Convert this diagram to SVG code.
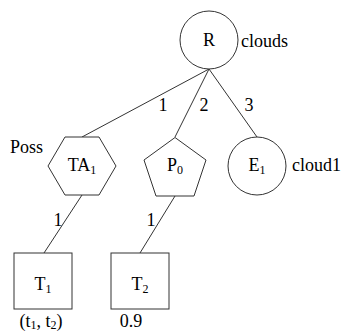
<svg xmlns="http://www.w3.org/2000/svg" width="343" height="333" viewBox="0 0 343 333" font-family="'Liberation Serif', 'DejaVu Serif', serif">
  <style>
    .shape { fill: #ffffff; stroke: #333333; stroke-width: 1; }
    .edge { stroke: #333333; stroke-width: 1; fill: none; }
    text { font-family: 'Liberation Serif', 'DejaVu Serif', serif; font-size: 18px; fill: #000000; }
    .mid { text-anchor: middle; }
    .sub { font-size: 12px; }
  </style>
  <rect width="343" height="333" fill="#ffffff"/>

  <g id="connectors">
    <line class="edge" x1="209" y1="69" x2="82" y2="137"/>
    <line class="edge" x1="209" y1="69" x2="175" y2="137"/>
    <line class="edge" x1="209" y1="69" x2="257" y2="137"/>
    <line class="edge" x1="82" y1="195" x2="44" y2="253"/>
    <line class="edge" x1="175" y1="196" x2="140" y2="253"/>
    <text x="163" y="111" class="mid">1</text>
    <text x="204" y="111" class="mid">2</text>
    <text x="249" y="111" class="mid">3</text>
    <text x="58" y="226" class="mid">1</text>
    <text x="151" y="226" class="mid">1</text>
  </g>

  <g id="node-R">
    <circle class="shape" cx="209" cy="40" r="29"/>
    <text x="209" y="46" class="mid">R</text>
    <text x="241" y="47">clouds</text>
  </g>

  <g id="node-TA1">
    <polygon class="shape" points="65,137 99,137 116,166 99,195 65,195 48,166"/>
    <text x="82" y="171" class="mid">TA<tspan class="sub" dy="3">1</tspan></text>
    <text x="10" y="153">Poss</text>
  </g>

  <g id="node-P0">
    <polygon class="shape" points="175,137.5 206,160 194,196 156,196 144,160"/>
    <text x="175" y="171" class="mid">P<tspan class="sub" dy="3">0</tspan></text>
  </g>

  <g id="node-E1">
    <circle class="shape" cx="257" cy="166" r="29"/>
    <text x="257" y="171" class="mid">E<tspan class="sub" dy="3">1</tspan></text>
    <text x="292" y="171">cloud1</text>
  </g>

  <g id="node-T1">
    <rect class="shape" x="14" y="253" width="58" height="56"/>
    <text x="43" y="290" class="mid">T<tspan class="sub" dy="3">1</tspan></text>
    <text x="41" y="327" class="mid">(t<tspan class="sub" dy="2">1</tspan><tspan dy="-2">, t</tspan><tspan class="sub" dy="2">2</tspan><tspan dy="-2">)</tspan></text>
  </g>

  <g id="node-T2">
    <rect class="shape" x="111" y="253" width="58" height="56"/>
    <text x="140" y="290" class="mid">T<tspan class="sub" dy="3">2</tspan></text>
    <text x="131" y="327" class="mid">0.9</text>
  </g>
</svg>
